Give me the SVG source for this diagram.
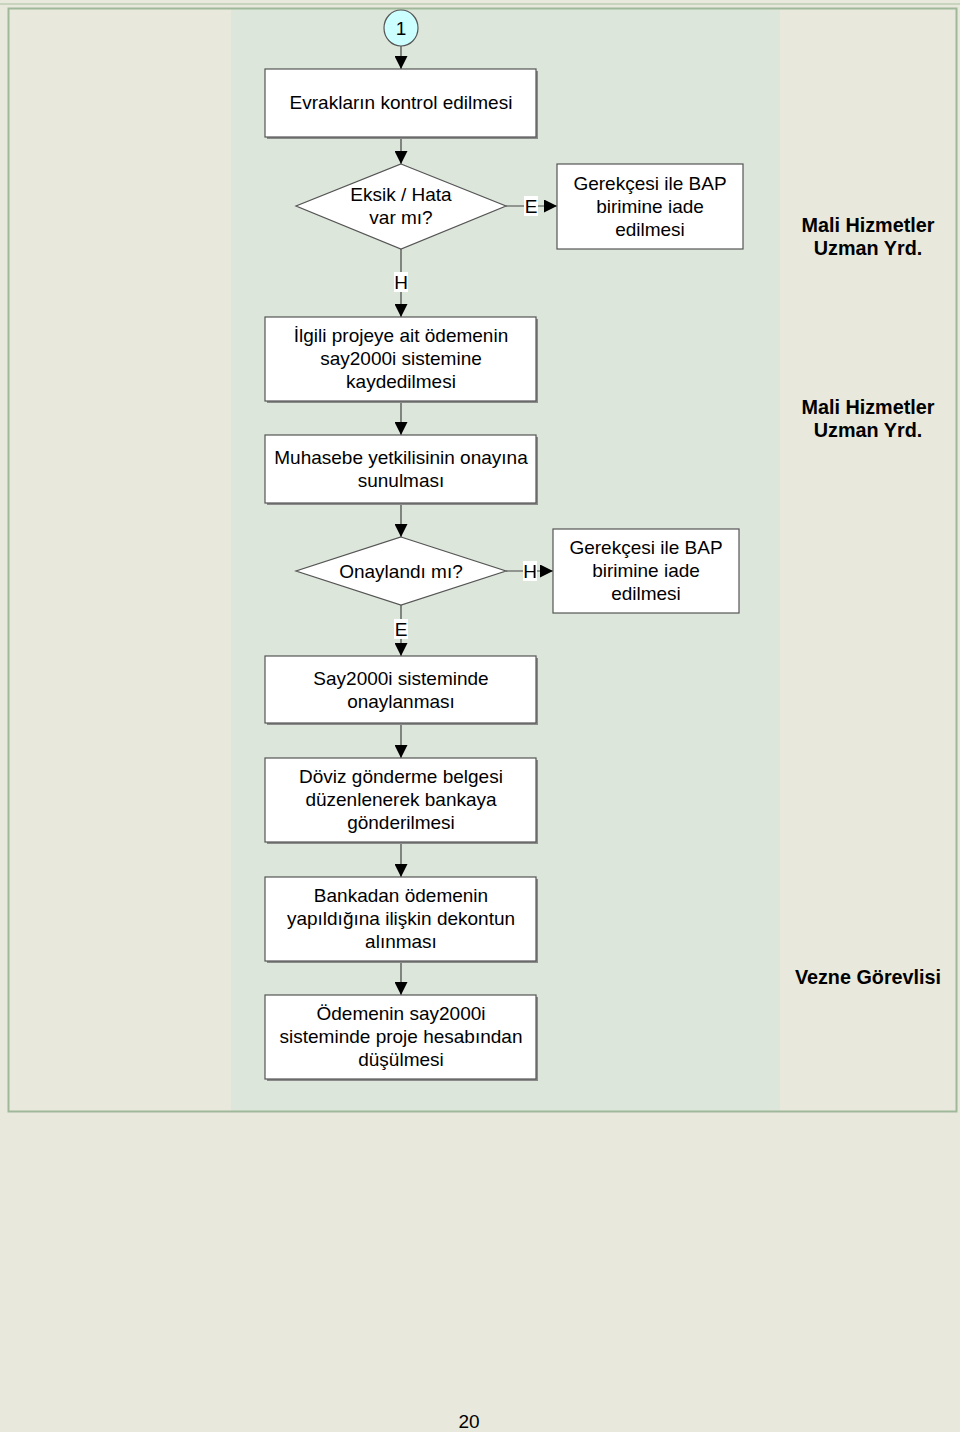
<svg xmlns="http://www.w3.org/2000/svg" width="960" height="1432" viewBox="0 0 960 1432">
<style>
.t{font-family:"Liberation Sans",Arial,sans-serif;font-size:19px;fill:#000;text-anchor:middle;dominant-baseline:central}
.r{font-family:"Liberation Sans",Arial,sans-serif;font-size:19.8px;font-weight:bold;fill:#000;text-anchor:middle;dominant-baseline:central}
.box{fill:#fff;stroke:#555;stroke-width:1.2}
.sh{fill:#8a8a8a}
.c{stroke:#444;stroke-width:1.2;fill:none}
.lb{fill:#fff}
</style>
<defs>
<marker id="ah" viewBox="0 0 13 13" refX="13" refY="6.5" markerWidth="13" markerHeight="13" markerUnits="userSpaceOnUse" orient="auto">
<path d="M0,0 L13,6.5 L0,13 Z" fill="#000"/>
</marker>
</defs>
<rect x="0" y="0" width="960" height="1432" fill="#e9e8dc"/>
<rect x="231" y="9" width="549" height="1102" fill="#dce6da"/>
<line x1="0" y1="4" x2="960" y2="4" stroke="#a8c0a0" stroke-width="1"/>
<rect x="8.5" y="8.5" width="948" height="1103" fill="none" stroke="#9fb89a" stroke-width="2"/>

<g id="connectors">
<line class="c" x1="401" y1="46" x2="401" y2="69" marker-end="url(#ah)"/>
<line class="c" x1="401" y1="137" x2="401" y2="164" marker-end="url(#ah)"/>
<line class="c" x1="506" y1="206" x2="557" y2="206" marker-end="url(#ah)"/>
<rect class="lb" x="524" y="196" width="14" height="20"/>
<text class="t" x="531" y="206">E</text>
<line class="c" x1="401" y1="249" x2="401" y2="317" marker-end="url(#ah)"/>
<rect class="lb" x="394" y="272" width="14" height="20"/>
<text class="t" x="401" y="282">H</text>
<line class="c" x1="401" y1="401" x2="401" y2="435" marker-end="url(#ah)"/>
<line class="c" x1="401" y1="503" x2="401" y2="537" marker-end="url(#ah)"/>
<line class="c" x1="506" y1="571" x2="553" y2="571" marker-end="url(#ah)"/>
<rect class="lb" x="523" y="561" width="14" height="20"/>
<text class="t" x="530" y="571">H</text>
<line class="c" x1="401" y1="605" x2="401" y2="656" marker-end="url(#ah)"/>
<rect class="lb" x="394" y="619" width="14" height="20"/>
<text class="t" x="401" y="629">E</text>
<line class="c" x1="401" y1="723" x2="401" y2="758" marker-end="url(#ah)"/>
<line class="c" x1="401" y1="842" x2="401" y2="877" marker-end="url(#ah)"/>
<line class="c" x1="401" y1="961" x2="401" y2="995" marker-end="url(#ah)"/>
</g>

<g id="n0">
<ellipse cx="401" cy="28" rx="17" ry="18" fill="#ccffff" stroke="#555" stroke-width="1.2"/>
<text class="t" x="401" y="28">1</text>
</g>
<g id="n1">
<rect class="sh" x="267" y="71" width="271" height="68"/>
<rect class="box" x="265" y="69" width="271" height="68"/>
<text class="t" x="401" y="102">Evrakların kontrol edilmesi</text>
</g>
<g id="n2">
<polygon points="401,164 506,206 401,249 296,206" class="box"/>
<text class="t" x="401" y="194">Eksik / Hata</text>
<text class="t" x="401" y="217">var mı?</text>
</g>
<g id="n3">
<rect class="box" x="557" y="164" width="186" height="85"/>
<text class="t" x="650" y="183">Gerekçesi ile BAP</text>
<text class="t" x="650" y="206">birimine iade</text>
<text class="t" x="650" y="229">edilmesi</text>
</g>
<g id="n4">
<rect class="sh" x="267" y="319" width="271" height="84"/>
<rect class="box" x="265" y="317" width="271" height="84"/>
<text class="t" x="401" y="335">İlgili projeye ait ödemenin</text>
<text class="t" x="401" y="358">say2000i sistemine</text>
<text class="t" x="401" y="381">kaydedilmesi</text>
</g>
<g id="n5">
<rect class="sh" x="267" y="437" width="271" height="68"/>
<rect class="box" x="265" y="435" width="271" height="68"/>
<text class="t" x="401" y="457">Muhasebe yetkilisinin onayına</text>
<text class="t" x="401" y="480">sunulması</text>
</g>
<g id="n6">
<polygon points="401,537 506,571 401,605 296,571" class="box"/>
<text class="t" x="401" y="571">Onaylandı mı?</text>
</g>
<g id="n7">
<rect class="box" x="553" y="529" width="186" height="84"/>
<text class="t" x="646" y="547">Gerekçesi ile BAP</text>
<text class="t" x="646" y="570">birimine iade</text>
<text class="t" x="646" y="593">edilmesi</text>
</g>
<g id="n8">
<rect class="sh" x="267" y="658" width="271" height="67"/>
<rect class="box" x="265" y="656" width="271" height="67"/>
<text class="t" x="401" y="678">Say2000i sisteminde</text>
<text class="t" x="401" y="701">onaylanması</text>
</g>
<g id="n9">
<rect class="sh" x="267" y="760" width="271" height="84"/>
<rect class="box" x="265" y="758" width="271" height="84"/>
<text class="t" x="401" y="776">Döviz gönderme belgesi</text>
<text class="t" x="401" y="799">düzenlenerek bankaya</text>
<text class="t" x="401" y="822">gönderilmesi</text>
</g>
<g id="n10">
<rect class="sh" x="267" y="879" width="271" height="84"/>
<rect class="box" x="265" y="877" width="271" height="84"/>
<text class="t" x="401" y="895">Bankadan ödemenin</text>
<text class="t" x="401" y="918">yapıldığına ilişkin dekontun</text>
<text class="t" x="401" y="941">alınması</text>
</g>
<g id="n11">
<rect class="sh" x="267" y="997" width="271" height="84"/>
<rect class="box" x="265" y="995" width="271" height="84"/>
<text class="t" x="401" y="1013">Ödemenin say2000i</text>
<text class="t" x="401" y="1036">sisteminde proje hesabından</text>
<text class="t" x="401" y="1059">düşülmesi</text>
</g>

<g id="roles">
<text class="r" x="868" y="225">Mali Hizmetler</text>
<text class="r" x="868" y="248">Uzman Yrd.</text>
<text class="r" x="868" y="407">Mali Hizmetler</text>
<text class="r" x="868" y="430">Uzman Yrd.</text>
<text class="r" x="868" y="977">Vezne Görevlisi</text>
</g>
<text x="469" y="1421" font-family="'Liberation Sans',Arial,sans-serif" font-size="19" text-anchor="middle" dominant-baseline="central" fill="#000">20</text>
</svg>
